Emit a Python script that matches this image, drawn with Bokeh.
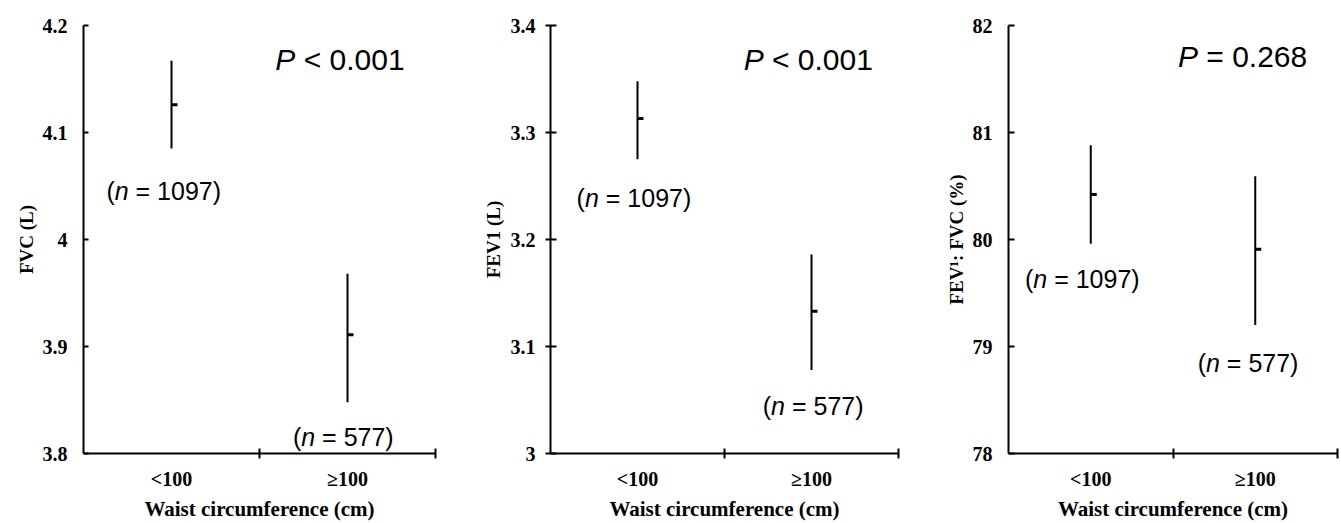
from bokeh.plotting import figure
from bokeh.models import Range1d, FixedTicker, Label, ColumnDataSource
from bokeh.layouts import row
from bokeh.embed import file_html
from bokeh.resources import INLINE

# ---------------- data ----------------
categories = ["<100", "≥100"]
group_n = [1097, 577]

fvc_mean = [4.126, 3.911]
fvc_low = [4.085, 3.848]
fvc_high = [4.167, 3.968]
fvc_ticks = [3.8, 3.9, 4.0, 4.1, 4.2]
fvc_tick_labels = ["3.8", "3.9", "4", "4.1", "4.2"]
fvc_p = "< 0.001"

fev1_mean = [3.313, 3.133]
fev1_low = [3.275, 3.078]
fev1_high = [3.348, 3.186]
fev1_ticks = [3.0, 3.1, 3.2, 3.3, 3.4]
fev1_tick_labels = ["3", "3.1", "3.2", "3.3", "3.4"]
fev1_p = "< 0.001"

ratio_mean = [80.42, 79.91]
ratio_low = [79.96, 79.20]
ratio_high = [80.88, 80.59]
ratio_ticks = [78, 79, 80, 81, 82]
ratio_tick_labels = ["78", "79", "80", "81", "82"]
ratio_p = "= 0.268"

x_title = "Waist circumference (cm)"

# ---------------- helpers ----------------
ARIAL = {str(d): 0.556 for d in range(10)}
ARIAL.update({" ": 0.278, "(": 0.333, ")": 0.333, "=": 0.584, "<": 0.584,
              ".": 0.278, "P": 0.667, "n": 0.556})


def text_w(s, size):
    return sum(ARIAL.get(c, 0.556) for c in s) * size


def rich_label(p, x, y, pieces, size):
    off = 0.0
    for txt, italic in pieces:
        stripped = txt.lstrip(" ")
        off += text_w(txt[: len(txt) - len(stripped)], size)
        p.add_layout(Label(x=x, y=y, x_offset=off, text=stripped,
                           text_font="Liberation Sans",
                           text_font_size=f"{size}px",
                           text_font_style="italic" if italic else "normal",
                           text_color="black", text_align="left",
                           text_baseline="middle"))
        off += text_w(stripped, size)


def panel(mean, low, high, ticks, tick_labels, ylabel, pval,
          width, bl, br, tick_in, tick_out, lab_stand, title_stand,
          p_pos, n_pos):
    frame_w = width - bl - br
    xs = [i + 0.5 for i in range(len(categories))]
    p = figure(width=width, height=523, output_backend="svg",
               toolbar_location=None, x_range=Range1d(0, len(categories)),
               y_range=Range1d(ticks[0], ticks[-1]),
               min_border_left=bl, min_border_right=br,
               min_border_top=25, min_border_bottom=70)
    p.outline_line_color = None
    p.xgrid.visible = False
    p.ygrid.visible = False
    p.background_fill_color = "white"
    p.border_fill_color = "white"

    src = ColumnDataSource(dict(x=xs, mean=mean, low=low, high=high,
                                xm=[x + 6 * len(categories) / frame_w for x in xs]))
    p.segment(x0="x", y0="low", x1="x", y1="high", source=src,
              line_color="black", line_width=2)
    p.segment(x0="x", y0="mean", x1="xm", y1="mean", source=src,
              line_color="black", line_width=3)

    # y axis
    ya = p.yaxis[0]
    ya.ticker = FixedTicker(ticks=ticks)
    ya.major_label_overrides = {t: l for t, l in zip(ticks, tick_labels)}
    ya.major_tick_in = tick_in
    ya.major_tick_out = tick_out
    ya.minor_tick_line_color = None
    ya.axis_line_width = 2
    ya.major_tick_line_width = 2
    ya.axis_line_color = "black"
    ya.major_tick_line_color = "black"
    ya.major_label_text_font = "Liberation Serif"
    ya.major_label_text_font_style = "bold"
    ya.major_label_text_font_size = "20px"
    ya.major_label_text_color = "black"
    ya.major_label_standoff = lab_stand
    ya.axis_label = ylabel
    ya.axis_label_text_font = "Liberation Serif"
    ya.axis_label_text_font_style = "bold"
    ya.axis_label_text_font_size = "19px"
    ya.axis_label_text_color = "black"
    ya.axis_label_standoff = title_stand

    # x axis
    xa = p.xaxis[0]
    xa.ticker = FixedTicker(ticks=xs, minor_ticks=[1, 2])
    xa.major_label_overrides = {x: c for x, c in zip(xs, categories)}
    xa.major_tick_line_color = None
    xa.major_tick_in = 0
    xa.major_tick_out = 0
    xa.minor_tick_in = 5
    xa.minor_tick_out = 5
    xa.minor_tick_line_width = 2
    xa.minor_tick_line_color = "black"
    xa.axis_line_width = 2
    xa.axis_line_color = "black"
    xa.major_label_text_font = "Liberation Serif"
    xa.major_label_text_font_style = "bold"
    xa.major_label_text_font_size = "20px"
    xa.major_label_text_color = "black"
    xa.major_label_standoff = 9
    xa.axis_label = x_title
    xa.axis_label_text_font = "Liberation Serif"
    xa.axis_label_text_font_style = "bold"
    xa.axis_label_text_font_size = "21px"
    xa.axis_label_text_color = "black"
    xa.axis_label_standoff = 4

    rich_label(p, p_pos[0], p_pos[1], [("P", True), (" " + pval, False)], 30)
    for (nx, ny), n in zip(n_pos, group_n):
        rich_label(p, nx, ny, [("(", False), ("n", True), (f" = {n})", False)], 25)
    return p


p1 = panel(fvc_mean, fvc_low, fvc_high, fvc_ticks, fvc_tick_labels, "FVC (L)", fvc_p,
           width=450, bl=83, br=15, tick_in=5, tick_out=0,
           lab_stand=16, title_stand=3,
           p_pos=(1.09, 4.168), n_pos=[(0.13, 4.045), (1.19, 3.815)])
p2 = panel(fev1_mean, fev1_low, fev1_high, fev1_ticks, fev1_tick_labels, "FEV1 (L)", fev1_p,
           width=450, bl=100, br=2, tick_in=6, tick_out=5,
           lab_stand=10, title_stand=4,
           p_pos=(1.11, 3.368), n_pos=[(0.15, 3.239), (1.22, 3.044)])
p3 = panel(ratio_mean, ratio_low, ratio_high, ratio_ticks, ratio_tick_labels,
           "FEV\u00b9: FVC (%)", ratio_p,
           width=441, bl=108, br=4, tick_in=6, tick_out=0,
           lab_stand=16, title_stand=3,
           p_pos=(1.03, 81.71), n_pos=[(0.10, 79.63), (1.15, 78.85)])

layout = row(p1, p2, p3)
open("out.html", "w").write(file_html(layout, INLINE))
